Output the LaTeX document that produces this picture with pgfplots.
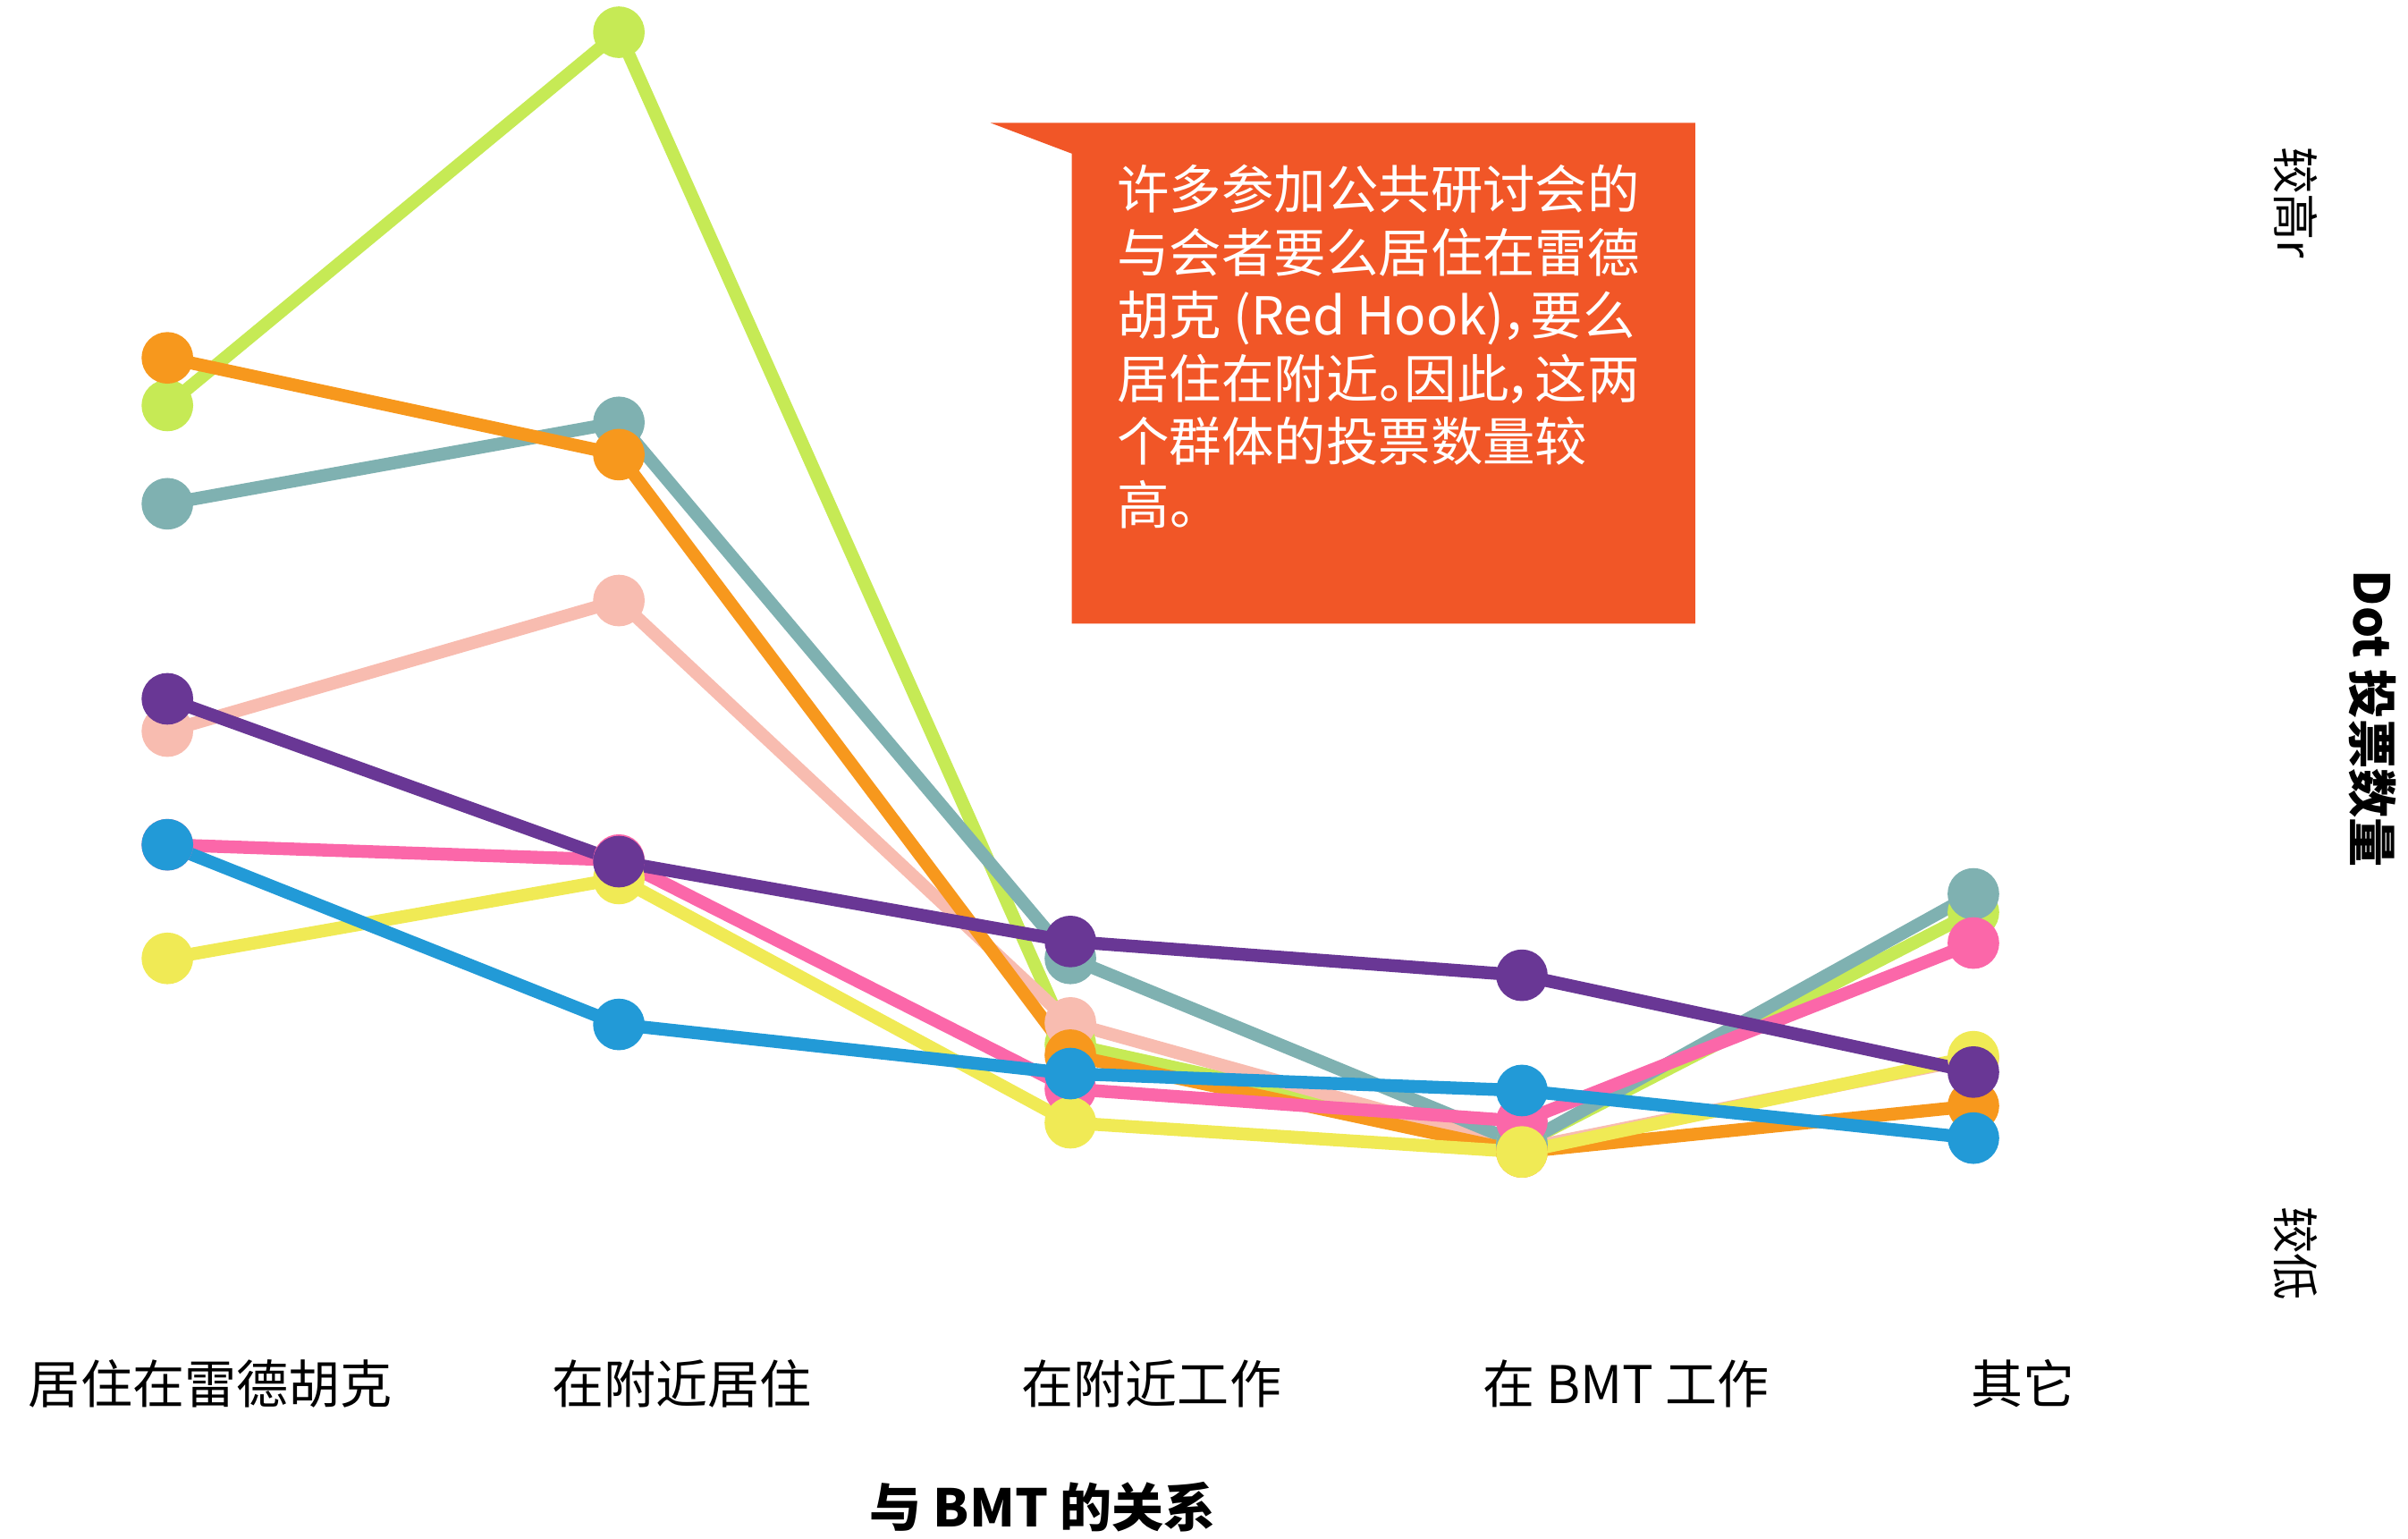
\documentclass[border=0pt]{standalone}
\usepackage{pgfplots}
\pgfplotsset{compat=1.18}
\usepackage{fontspec}
\setmainfont{Noto Sans CJK SC}
\newfontfamily\cjkp[RawFeature=+palt]{Noto Sans CJK SC}

\definecolor{cLime}{HTML}{C6EA55}
\definecolor{cSalmon}{HTML}{F8BCB0}
\definecolor{cTeal}{HTML}{7FB1B1}
\definecolor{cOrange}{HTML}{F7981D}
\definecolor{cPink}{HTML}{FB67A9}
\definecolor{cYellow}{HTML}{F0EA55}
\definecolor{cBlue}{HTML}{229AD7}
\definecolor{cPurple}{HTML}{693795}
\definecolor{cCallout}{HTML}{F15627}

\begin{document}
\begin{tikzpicture}
\begin{axis}[
  scale only axis,
  width=672.7pt, height=429.9pt,
  xmin=-0.3707, xmax=4.9626,
  ymin=-2, ymax=1000,
  axis line style={draw=none},
  tick style={draw=none},
  clip=false,
  xtick pos=bottom,
  xtick={0.095,1.14,2.18,3.23,4.11},
  xticklabels={居住在雷德胡克,在附近居住,在附近工作,在 BMT 工作,其它},
  xticklabel style={anchor=center, yshift=43.3pt, font=\fontsize{14.5}{17}\selectfont},
  major tick length=0pt,
  ytick=\empty,
  every axis plot/.append style={line width=3.6pt, mark=*, mark size=5.4pt,
    mark options={solid, draw=none}},
]
% 居住在雷德胡克, 在附近居住, 在附近工作, 在 BMT 工作, 其它
\addplot[cLime, mark options={fill=cLime}] coordinates {(0,736) (1,979) (2,320) (3,255) (4,406)};
\addplot[cSalmon, mark options={fill=cSalmon}] coordinates {(0,524) (1,609) (2,334) (3,252) (4,311)};
\addplot[cTeal, mark options={fill=cTeal}] coordinates {(0,672) (1,725) (2,376) (3,255) (4,418)};
\addplot[cOrange, mark options={fill=cOrange}] coordinates {(0,767) (1,704) (2,313) (3,250) (4,280)};
\addplot[cPink, mark options={fill=cPink}] coordinates {(0,450) (1,440) (2,291) (3,270) (4,386)};
\addplot[cYellow, mark options={fill=cYellow}] coordinates {(0,376) (1,428) (2,269) (3,250) (4,312)};
\addplot[cBlue, mark options={fill=cBlue}] coordinates {(0,450) (1,333) (2,301) (3,290) (4,259)};
\addplot[cPurple, mark options={fill=cPurple}] coordinates {(0,545) (1,439) (2,387) (3,365) (4,302)};

% callout
\fill[cCallout] (axis cs:1.823,920) -- (axis cs:3.384,920) -- (axis cs:3.384,594)
  -- (axis cs:2.003,594) -- (axis cs:2.003,900) -- cycle;
\node[anchor=north west, align=left, text=white, inner sep=0pt,
  font=\cjkp\fontsize{14.6}{17.6}\selectfont] at (axis cs:2.102,893)
  {许多参加公共研讨会的\\与会者要么居住在雷德\\胡克 (Red Hook)，要么\\居住在附近。因此，这两\\个群体的投票数量较\\高。};

% axis labels
\node[rotate=-90, font=\fontsize{13.1}{15}\selectfont] at (axis cs:4.714,868) {较高r};
\node[rotate=-90, font=\fontsize{13.1}{15}\selectfont] at (axis cs:4.714,184) {较低};
\node[rotate=-90, font=\bfseries\fontsize{13.8}{15}\selectfont] at (axis cs:4.884,532) {Dot 投票数量};
\node[font=\bfseries\fontsize{14.5}{17}\selectfont] at (axis cs:1.939,19) {与 BMT 的关系};
\end{axis}
\pgfresetboundingbox
\path (current axis.south west) rectangle (current axis.north east);
\end{tikzpicture}
\end{document}
